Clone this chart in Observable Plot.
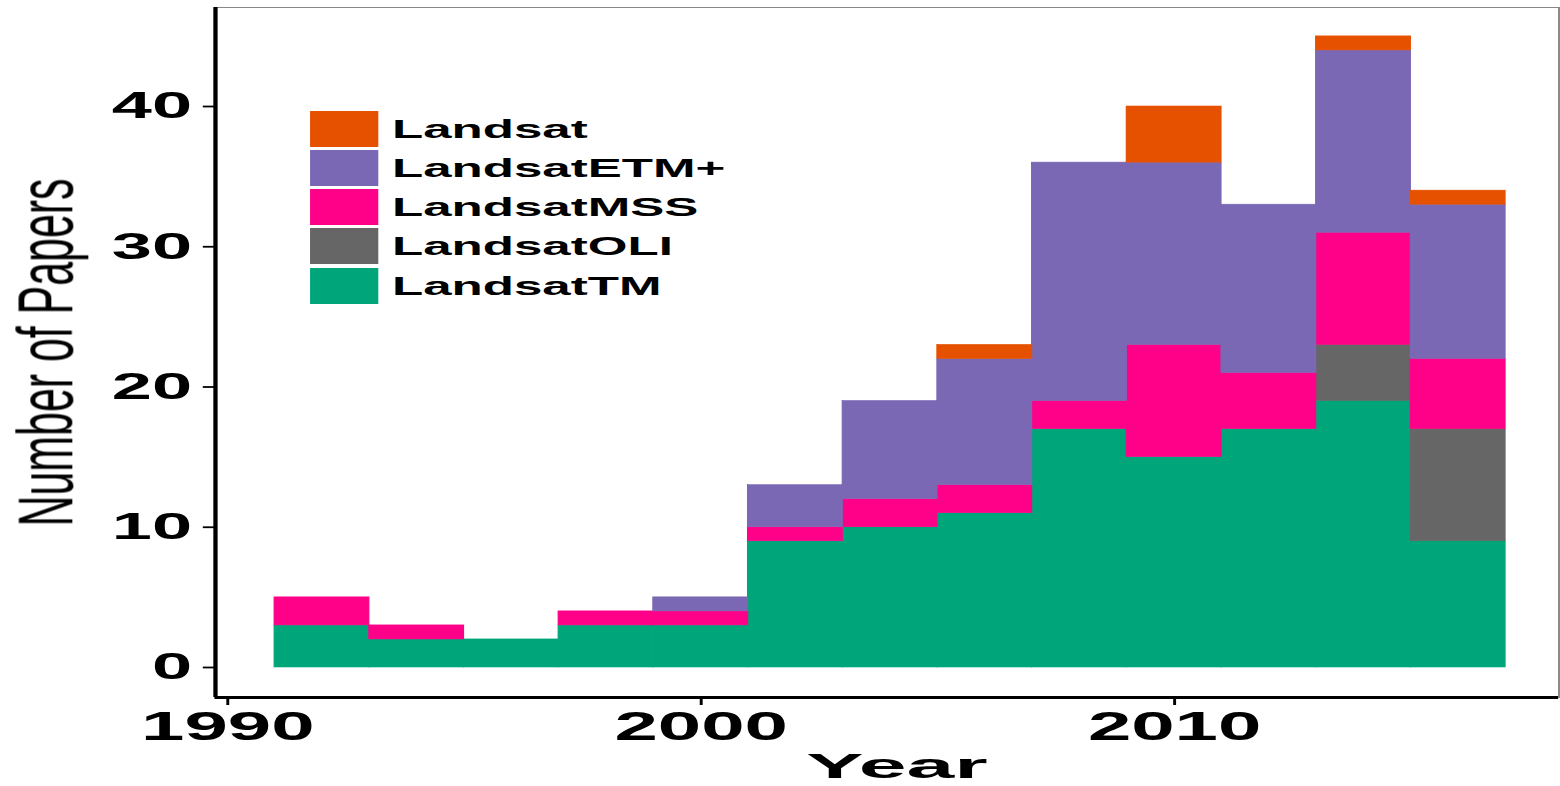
<!DOCTYPE html>
<html>
<head>
<meta charset="utf-8">
<script src="https://cdn.jsdelivr.net/npm/d3@7"></script>
<script src="https://cdn.jsdelivr.net/npm/@observablehq/plot@0.6"></script>
<style>
html, body { margin: 0; padding: 0; background: #fff; overflow: hidden; }
#wrap { position: relative; width: 800px; height: 786px; transform: scaleX(1.95); transform-origin: 0 0;
        font-family: "Liberation Sans", Arial, sans-serif; }
#legend { position: absolute; left: 159px; top: 109px; }
.row { display: flex; align-items: center; height: 39.25px; }
.sw { width: 35px; height: 36px; }
.lab { margin-left: 7px; font-weight: bold; font-size: 26.2px; color: #000; line-height: 1; }
</style>
</head>
<body>
<div id="wrap"><div id="chart"></div><div id="legend"></div></div>
<script>
// ---- data ----
const binStart = [1991, 1993, 1995, 1997, 1999, 2001, 2003, 2005, 2007, 2009, 2011, 2013, 2015];
const binWidth = 2;
const sensors = ["Landsat", "LandsatETM+", "LandsatMSS", "LandsatOLI", "LandsatTM"];
const sensorColors = ["#E65100", "#7B68B4", "#FF0088", "#666666", "#00A67A"];
const stackOrder = ["LandsatTM", "LandsatOLI", "LandsatMSS", "LandsatETM+", "Landsat"];
const countLandsat    = [0, 0, 0, 0, 0, 0, 0, 1, 0, 4, 0, 1, 1];
const countLandsatETM = [0, 0, 0, 0, 1, 3, 7, 9, 17, 13, 12, 13, 11];
const countLandsatMSS = [2, 1, 0, 1, 1, 1, 2, 2, 2, 8, 4, 8, 5];
const countLandsatOLI = [0, 0, 0, 0, 0, 0, 0, 0, 0, 0, 0, 4, 8];
const countLandsatTM  = [3, 2, 2, 3, 3, 9, 10, 11, 17, 15, 17, 19, 9];
const xTicks = [1990, 2000, 2010];
const yTicks = [0, 10, 20, 30, 40];
const xDomain = [1989.74, 2018.12];
const yDomain = [-2.14, 47.06];
const xLabel = "Year";
const yLabel = "Number of Papers";

const series = {
  "Landsat": countLandsat,
  "LandsatETM+": countLandsatETM,
  "LandsatMSS": countLandsatMSS,
  "LandsatOLI": countLandsatOLI,
  "LandsatTM": countLandsatTM
};
const rows = [];
for (const s of stackOrder) {
  series[s].forEach((c, i) => {
    if (c > 0) rows.push({sensor: s, start: binStart[i], end: binStart[i] + binWidth, count: c});
  });
}

const chart = Plot.plot({
  width: 800,
  height: 786,
  marginLeft: 110,
  marginRight: 1,
  marginTop: 7,
  marginBottom: 89,
  style: {fontFamily: "Liberation Sans, Arial, sans-serif", background: "#fff", color: "#000", overflow: "visible"},
  x: {domain: xDomain},
  y: {domain: yDomain},
  color: {domain: sensors, range: sensorColors},
  marks: [
    Plot.rectY(rows, {x1: "start", x2: "end", y: "count", fill: "sensor", stroke: "sensor",
                      strokeWidth: 0.6, order: stackOrder}),
    Plot.frame({stroke: "#888", strokeWidth: 1}),
    Plot.ruleX([xDomain[0]], {stroke: "#000", strokeWidth: 2.2}),
    Plot.ruleY([yDomain[0]], {stroke: "#000", strokeWidth: 2.8}),
    Plot.axisX({ticks: xTicks, tickFormat: d3.format("d"), tickSize: 8, tickPadding: 6,
                fontSize: 40, fontWeight: "bold", strokeWidth: 1.5, label: null}),
    Plot.axisY({ticks: yTicks, tickSize: 6, tickPadding: 6, fontSize: 37, fontWeight: "bold",
                strokeWidth: 1.8, label: null}),
    Plot.text([xLabel], {frameAnchor: "bottom", lineAnchor: "top", textAnchor: "middle", dy: 56, dx: 5,
                fontSize: 35, fontWeight: "bold", fill: "#000"}),
    Plot.text([yLabel], {frameAnchor: "left", lineAnchor: "top", textAnchor: "middle", rotate: -90, dx: -101.4,
                fontSize: 39.5, fontWeight: "normal", fill: "#000"})
  ]
});
document.getElementById("chart").appendChild(chart);

// stretch axis titles to their measured lengths
for (const t of chart.querySelectorAll("text")) {
  if (t.textContent === xLabel) { t.setAttribute("textLength", 93); t.setAttribute("lengthAdjust", "spacingAndGlyphs"); }
  if (t.textContent === yLabel) { t.setAttribute("textLength", 348); t.setAttribute("lengthAdjust", "spacingAndGlyphs"); }
}

// legend
const legend = document.getElementById("legend");
sensors.forEach((s, i) => {
  const row = document.createElement("div");
  row.className = "row";
  const sw = document.createElement("div");
  sw.className = "sw";
  sw.style.background = sensorColors[i];
  const lab = document.createElement("span");
  lab.className = "lab";
  lab.textContent = s;
  row.appendChild(sw);
  row.appendChild(lab);
  legend.appendChild(row);
});
</script>
</body>
</html>
